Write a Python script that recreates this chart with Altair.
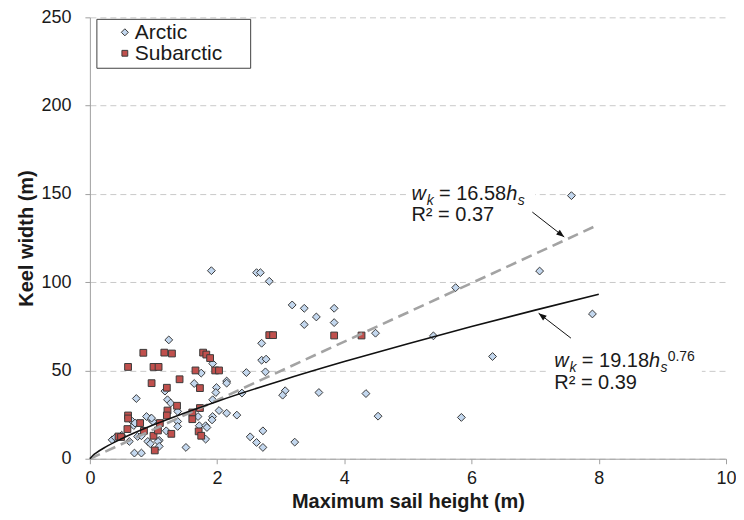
import altair as alt
import pandas as pd

# ---------------- data ----------------
series_names = ["Arctic", "Subarctic"]

arctic_x = [7.57, 7.07, 5.75, 7.90, 6.33, 5.84,
            3.18, 3.37, 3.56, 3.37, 3.84, 3.84, 4.49, 5.40, 3.60, 4.34, 4.53, 3.22,
            1.91, 2.62, 2.68, 2.82,
            2.70, 2.70, 2.77, 2.46, 2.76, 2.15, 2.39, 3.07, 3.03, 2.15, 2.31, 2.72, 2.52, 2.62, 2.72,
            1.24, 1.93, 1.75, 1.64, 2.15, 1.99, 1.98, 1.18, 1.22, 1.27, 1.38, 1.93, 2.03,
            1.70, 1.93, 1.92, 1.72, 1.82, 1.84, 1.82, 1.38, 1.38, 1.20, 1.09, 1.51,
            0.73, 0.67, 0.69, 0.95, 0.99, 0.75, 0.81, 0.91, 0.95, 1.07, 1.09, 0.70, 0.81,
            0.35, 0.40, 0.50, 0.62, 0.89, 0.97, 0.71]
arctic_y = [149.0, 106.3, 96.9, 82.0, 57.9, 23.4,
            87.1, 85.2, 80.3, 76.0, 85.2, 77.1, 71.1, 69.6, 37.5, 36.9, 24.1, 9.4,
            106.5, 105.4, 105.4, 100.5,
            65.4, 55.8, 56.4, 48.8, 49.2, 44.0, 37.2, 38.5, 36.0, 25.8, 24.7, 15.8, 12.4, 9.2, 6.4,
            67.3, 53.9, 48.5, 42.6, 42.8, 40.3, 37.5, 38.3, 33.4, 31.5, 26.8, 33.4, 27.3,
            23.9, 23.9, 22.0, 18.7, 18.7, 17.7, 11.1, 21.1, 18.3, 15.8, 10.4, 6.4,
            34.1, 21.1, 18.8, 22.6, 21.1, 12.6, 13.0, 9.8, 8.5, 9.8, 7.0, 3.2, 3.2,
            10.7, 12.0, 13.3, 9.8, 23.9, 23.0, 20.2]

subarctic_x = [3.84, 4.27, 2.82, 2.88,
               1.17, 1.29, 1.78, 1.83, 1.89, 1.66, 1.97, 2.03, 1.41, 1.73, 1.21, 1.37,
               1.22, 1.21, 1.73, 1.61, 1.61, 1.71, 1.75, 1.28, 1.10,
               0.84, 0.60, 1.00, 1.08, 0.97, 0.60, 0.60, 0.59, 0.79, 0.85, 1.00, 1.02,
               0.45, 0.49, 1.07]
subarctic_y = [69.8, 69.8, 70.0, 70.0,
               60.1, 59.6, 60.1, 59.0, 57.0, 50.0, 50.0, 50.0, 45.0, 40.0, 40.2, 30.0,
               27.3, 24.5, 28.7, 26.2, 22.4, 15.5, 13.0, 14.1, 20.2,
               60.0, 52.0, 52.0, 52.0, 42.8, 24.5, 22.8, 16.8, 20.2, 15.8, 13.0, 4.7,
               12.6, 12.3, 16.0]

# fitted curves (w = 19.18 h^0.76 and w = 16.58 h)
power_fit_x = [0, 0.05, 0.1, 0.25, 0.5, 1, 1.5, 2, 3, 4, 5, 6, 7, 8]
power_fit_y = [0, 1.97, 3.33, 6.69, 11.33, 19.18, 26.10, 32.48, 44.20, 55.01, 65.17, 74.86, 84.17, 93.14]
linear_fit_x = [0, 8]
linear_fit_y = [0, 132.64]

x_ticks = [0, 2, 4, 6, 8, 10]
y_ticks = [0, 50, 100, 150, 200, 250]
x_title = "Maximum sail height (m)"
y_title = "Keel width (m)"

# ---------------- styles ----------------
FONT = "Liberation Sans"
TXT = "#1a1a1a"
GREY_AX = "#a0a0a0"
fill_colors = ["#c3d7ee", "#c0504d"]
shapes = ["diamond", "square"]
sizes = [62, 46]

xs = alt.Scale(domain=[0, 10], nice=False, zero=False)
ys = alt.Scale(domain=[0, 250], nice=False, zero=False)

xaxis = alt.Axis(values=x_ticks, title=x_title, grid=False, labelFont=FONT, labelFontSize=18,
                 labelColor=TXT, titleFont=FONT, titleFontSize=20, titleFontWeight="bold",
                 titleColor=TXT, domainColor=GREY_AX, tickColor=GREY_AX, tickSize=5,
                 labelPadding=6, titlePadding=4, format="d", labelFlush=False)
yaxis = alt.Axis(values=y_ticks, title=y_title, grid=True, gridColor="#c9c9c9", gridDash=[6, 4],
                 labelFont=FONT, labelFontSize=18, labelColor=TXT, titleFont=FONT, titleFontSize=20,
                 titleFontWeight="bold", titleColor=TXT, domainColor=GREY_AX, tickColor=GREY_AX,
                 tickSize=5, labelPadding=14, titlePadding=4, format="d", labelFlush=False)


def X(f="h"):
    return alt.X(f"{f}:Q", scale=xs, axis=xaxis)


def Y(f="w"):
    return alt.Y(f"{f}:Q", scale=ys, axis=yaxis)


pts = pd.concat([
    pd.DataFrame({"h": arctic_x, "w": arctic_y, "series": series_names[0]}),
    pd.DataFrame({"h": subarctic_x, "w": subarctic_y, "series": series_names[1]}),
], ignore_index=True)

points = alt.Chart(pts).mark_point(filled=True, opacity=1, stroke="#3a3a3a", strokeWidth=1).encode(
    x=X(), y=Y(),
    fill=alt.Fill("series:N", scale=alt.Scale(domain=series_names, range=fill_colors), legend=None),
    shape=alt.Shape("series:N", scale=alt.Scale(domain=series_names, range=shapes), legend=None),
    size=alt.Size("series:N", scale=alt.Scale(domain=series_names, range=sizes), legend=None),
)

lin = alt.Chart(pd.DataFrame({"h": linear_fit_x, "w": linear_fit_y})).mark_line(
    color="#a3a3a3", strokeWidth=2.6, strokeDash=[11, 6]).encode(x=X(), y=Y())
pw = alt.Chart(pd.DataFrame({"h": power_fit_x, "w": power_fit_y})).mark_line(
    color="#111111", strokeWidth=1.6, interpolate="monotone").encode(x=X(), y=Y())

# white boxes behind the equations
box_h = [4.99, 7.22]
box_h2 = [7.0, 9.62]
box_w = [156.0, 61.7]
box_w2 = [132.4, 37.9]
boxes = alt.Chart(pd.DataFrame({"h": box_h, "h2": box_h2, "w": box_w, "w2": box_w2})).mark_rect(
    fill="white").encode(x=X(), x2="h2:Q", y=Y(), y2="w2:Q")

# arrows
arrow_h = [6.955, 7.562]
arrow_w = [139.7, 68.3]
arrow_h2 = [7.457, 7.054]
arrow_w2 = [125.6, 82.4]
arrow_angle = [38, 218]
rules = alt.Chart(pd.DataFrame({"h": arrow_h, "w": arrow_w, "h2": arrow_h2, "w2": arrow_w2})).mark_rule(
    color="#111111", strokeWidth=1).encode(x=X(), y=Y(), x2="h2:Q", y2="w2:Q")
heads = []
for i in range(2):
    heads.append(alt.Chart(pd.DataFrame({"h": [arrow_h2[i]], "w": [arrow_w2[i]]})).mark_point(
        shape="M0,0L-2,-0.75L-2,0.75Z", size=64, filled=True, opacity=1, color="#111111",
        angle=arrow_angle[i]).encode(x=X(), y=Y()))


def piece(t, h, w, dx=0, dy=0, size=20, italic=False):
    return alt.Chart(pd.DataFrame({"h": [h], "w": [w], "t": [t]})).mark_text(
        align="left", baseline="alphabetic", dx=dx, dy=dy, font=FONT, fontSize=size,
        fontStyle="italic" if italic else "normal", color=TXT).encode(x=X(), y=Y(), text="t:N")


SUB = 14
eq1_h, eq1_w, eq1_w2 = 5.055, 146.5, 134.6
eq2_h, eq2_w, eq2_w2 = 7.30, 52.0, 39.6
texts = [
    piece("w", eq1_h, eq1_w, 0, 0, 20, True),
    piece("k", eq1_h, eq1_w, 15.2, 5, SUB, True),
    piece("= 16.58", eq1_h, eq1_w, 27.6, 0),
    piece("h", eq1_h, eq1_w, 94.9, 0, 20, True),
    piece("s", eq1_h, eq1_w, 106.4, 5, SUB, True),
    piece("R\u00b2 = 0.37", eq1_h, eq1_w2),
    piece("w", eq2_h, eq2_w, 0, 0, 20, True),
    piece("k", eq2_h, eq2_w, 15.2, 5, SUB, True),
    piece("= 19.18", eq2_h, eq2_w, 27.6, 0),
    piece("h", eq2_h, eq2_w, 94.9, 0, 20, True),
    piece("s", eq2_h, eq2_w, 106.4, 5, SUB, True),
    piece("0.76", eq2_h, eq2_w, 113.6, -6, SUB),
    piece("R\u00b2 = 0.39", eq2_h, eq2_w2),
]

# legend (drawn by hand to match the boxed Excel legend)
legend_box = alt.Chart(pd.DataFrame({"series": series_names[:1]})).mark_rect(
    fill="white", stroke="#404040", strokeWidth=1).encode(
    x=alt.value(7), x2=alt.value(161), y=alt.value(2), y2=alt.value(51))
legend_rows_y = [15, 36]
legend_layers = [legend_box]
for i, name in enumerate(series_names):
    d = pd.DataFrame({"series": [name]})
    legend_layers.append(alt.Chart(d).mark_point(
        shape=shapes[i], size=sizes[i] - 12, filled=True, opacity=1, fill=fill_colors[i],
        stroke="#3a3a3a", strokeWidth=1).encode(x=alt.value(35), y=alt.value(legend_rows_y[i])))
    legend_layers.append(alt.Chart(d).mark_text(
        align="left", baseline="middle", font=FONT, fontSize=21, color=TXT).encode(
        x=alt.value(45), y=alt.value(legend_rows_y[i] + 1), text="series:N"))

chart = alt.layer(
    points, boxes, lin, pw, rules, *heads, *texts, *legend_layers
).properties(
    width=637, height=442,
    padding={"left": 82, "top": 9, "right": 10, "bottom": 53},
    autosize=alt.AutoSizeParams(type="none"),
    background="white",
).configure_view(stroke=None)

chart.save("out.html", embed_options={"renderer": "svg", "actions": False})
